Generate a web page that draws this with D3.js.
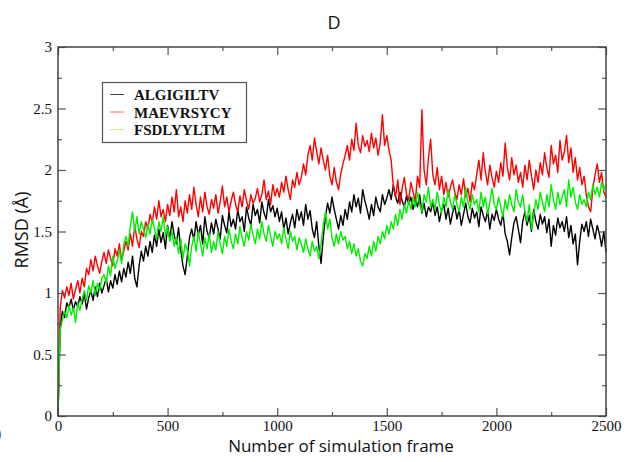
<!DOCTYPE html>
<html><head><meta charset="utf-8">
<script src="https://cdn.jsdelivr.net/npm/d3@7"></script>
<style>body{margin:0;background:#fff}svg{display:block}</style>
</head><body>
<script>
const seriesNames = ["ALGIGILTV", "MAEVRSYCY", "FSDLYYLTM"];
const seriesColors = ["#000000", "#ff0000", "#00ee00"];
const legendColors = ["#444444", "#ff6666", "#ccee77"];
const frameStep = 10;
const xTicks = [0, 500, 1000, 1500, 2000, 2500];
const yTicks = [0, 0.5, 1, 1.5, 2, 2.5, 3];
const yTickLabels = ["0", "0.5", "1", "1.5", "2", "2.5", "3"];

const black = [0.00,
0.72,0.85,0.80,0.92,0.88,0.95,0.86,0.93,0.89,0.97,
0.91,0.99,0.87,0.96,1.02,0.94,1.05,0.97,1.08,1.00,
1.06,1.12,1.01,1.10,1.04,1.15,1.07,1.18,1.09,1.20,
1.13,1.25,1.16,1.30,1.12,1.05,1.22,1.34,1.26,1.38,
1.30,1.42,1.33,1.47,1.38,1.52,1.41,1.49,1.36,1.55,
1.44,1.58,1.47,1.40,1.53,1.35,1.22,1.15,1.30,1.45,
1.52,1.43,1.58,1.47,1.55,1.40,1.62,1.50,1.45,1.57,
1.48,1.60,1.52,1.44,1.63,1.55,1.49,1.66,1.54,1.60,
1.52,1.68,1.58,1.62,1.50,1.70,1.61,1.55,1.72,1.63,
1.68,1.57,1.74,1.65,1.60,1.76,1.66,1.71,1.62,1.69,
1.58,1.66,1.52,1.61,1.48,1.57,1.64,1.53,1.68,1.59,
1.66,1.55,1.72,1.60,1.67,1.52,1.45,1.58,1.38,1.24,
1.45,1.62,1.73,1.65,1.78,1.68,1.60,1.52,1.63,1.55,
1.68,1.60,1.74,1.66,1.80,1.70,1.77,1.65,1.84,1.75,
1.68,1.60,1.72,1.63,1.78,1.70,1.66,1.80,1.72,1.77,
1.84,1.76,1.88,1.78,1.73,1.82,1.75,1.70,1.79,1.72,
1.78,1.68,1.76,1.70,1.80,1.65,1.73,1.62,1.70,1.66,
1.74,1.63,1.70,1.58,1.67,1.72,1.60,1.69,1.56,1.65,
1.71,1.60,1.68,1.55,1.64,1.73,1.62,1.57,1.69,1.61,
1.66,1.54,1.70,1.63,1.58,1.67,1.52,1.64,1.59,1.68,
1.60,1.55,1.65,1.48,1.42,1.31,1.45,1.57,1.62,1.52,
1.41,1.58,1.66,1.55,1.63,1.50,1.68,1.58,1.52,1.64,
1.56,1.62,1.49,1.60,1.38,1.55,1.47,1.61,1.53,1.58,
1.50,1.62,1.45,1.55,1.40,1.48,1.23,1.42,1.56,1.50,
1.58,1.46,1.60,1.52,1.44,1.55,1.48,1.38,1.50,1.33];

const red = [0.00,
0.88,1.02,0.96,1.05,0.98,1.08,0.95,1.03,1.10,1.00,
1.12,1.05,1.20,1.15,1.27,1.18,1.30,1.22,1.16,1.26,
1.33,1.24,1.35,1.28,1.22,1.36,1.30,1.40,1.27,1.34,
1.42,1.35,1.48,1.38,1.55,1.44,1.37,1.50,1.46,1.58,
1.52,1.64,1.57,1.70,1.60,1.75,1.62,1.68,1.58,1.72,
1.63,1.78,1.66,1.84,1.62,1.70,1.58,1.75,1.65,1.80,
1.68,1.86,1.72,1.62,1.78,1.66,1.82,1.70,1.64,1.76,
1.69,1.80,1.65,1.74,1.87,1.70,1.78,1.66,1.75,1.82,
1.72,1.66,1.79,1.70,1.84,1.75,1.68,1.80,1.73,1.77,
1.85,1.74,1.80,1.92,1.76,1.83,1.72,1.88,1.79,1.85,
1.78,1.90,1.82,1.95,1.84,1.76,1.92,1.86,1.98,1.88,
1.94,2.05,1.96,2.12,2.20,2.08,2.26,2.15,2.05,2.18,
2.08,2.00,2.12,1.95,1.88,2.02,1.90,1.84,1.97,2.05,
2.12,2.20,2.08,2.25,2.16,2.38,2.20,2.14,2.28,2.19,
2.24,2.15,2.30,2.18,2.26,2.12,2.22,2.45,2.20,2.28,
2.16,2.08,1.86,1.78,1.92,1.72,1.85,1.94,1.80,1.76,
1.90,1.82,1.75,1.95,1.86,2.49,2.00,1.88,2.10,2.25,
1.96,1.88,2.02,1.84,1.95,1.80,1.90,1.78,1.86,1.92,
1.82,1.76,1.88,1.80,1.93,1.78,1.85,1.74,1.90,1.84,
1.96,2.08,1.92,2.14,1.98,1.88,2.04,1.94,1.86,1.99,
1.90,2.06,1.95,2.22,2.02,1.92,2.10,1.96,2.04,1.90,
1.98,1.86,2.04,1.92,2.08,1.95,1.84,2.00,1.90,2.06,
1.96,2.14,2.02,1.94,2.20,2.05,2.12,1.98,2.24,2.08,
2.15,2.28,2.06,2.18,1.98,2.10,1.92,2.02,1.88,1.95,
1.80,1.70,1.66,1.85,1.96,2.05,1.90,1.98,1.82,1.78];

const green = [0.00,
0.70,0.78,0.85,0.80,0.90,0.82,0.88,0.76,0.92,0.86,
0.95,1.02,0.94,1.06,1.00,1.10,0.98,1.08,1.02,1.12,
1.15,1.08,1.22,1.14,1.30,1.20,1.26,1.35,1.24,1.40,
1.46,1.38,1.55,1.66,1.50,1.62,1.48,1.58,1.52,1.45,
1.56,1.48,1.60,1.52,1.44,1.58,1.50,1.62,1.46,1.54,
1.42,1.50,1.38,1.46,1.32,1.44,1.28,1.40,1.35,1.22,
1.38,1.46,1.34,1.50,1.40,1.30,1.45,1.36,1.48,1.33,
1.42,1.35,1.50,1.40,1.32,1.46,1.38,1.52,1.42,1.36,
1.48,1.40,1.54,1.45,1.38,1.50,1.43,1.56,1.47,1.40,
1.52,1.44,1.58,1.48,1.42,1.55,1.46,1.38,1.50,1.44,
1.48,1.40,1.53,1.44,1.36,1.50,1.42,1.46,1.35,1.45,
1.40,1.33,1.44,1.36,1.30,1.42,1.34,1.38,1.28,1.40,
1.55,1.66,1.52,1.60,1.45,1.38,1.48,1.40,1.50,1.43,
1.46,1.36,1.42,1.32,1.40,1.30,1.36,1.26,1.22,1.32,
1.28,1.38,1.30,1.42,1.34,1.46,1.40,1.50,1.44,1.55,
1.48,1.58,1.52,1.64,1.55,1.68,1.60,1.72,1.65,1.75,
1.68,1.78,1.70,1.82,1.72,1.66,1.80,1.74,1.86,1.70,
1.76,1.68,1.82,1.72,1.65,1.78,1.70,1.84,1.74,1.68,
1.80,1.72,1.66,1.78,1.70,1.86,1.74,1.68,1.80,1.72,
1.76,1.66,1.82,1.70,1.78,1.64,1.74,1.85,1.72,1.68,
1.78,1.70,1.62,1.76,1.68,1.80,1.72,1.66,1.84,1.74,
1.70,1.80,1.66,1.58,1.72,1.52,1.64,1.76,1.68,1.82,
1.74,1.66,1.80,1.70,1.88,1.76,1.68,1.82,1.72,1.78,
1.84,1.70,1.92,1.78,1.86,1.74,1.68,1.80,1.72,1.76,
1.70,1.82,1.76,1.88,1.80,1.86,1.78,1.90,1.84,1.88];

const allSeries = [black, red, green];

const W = 634, H = 462;
const m = {left: 58, right: 28, top: 47, bottom: 46};
const svg = d3.select("body").append("svg").attr("width", W).attr("height", H);

const x = d3.scaleLinear().domain([0, 2500]).range([m.left, W - m.right]);
const y = d3.scaleLinear().domain([0, 3]).range([H - m.bottom, m.top]);

// title
svg.append("text").attr("x", 334).attr("y", 29).attr("text-anchor", "middle")
  .attr("font-family", "Open Sans, sans-serif").attr("font-size", 18).attr("fill", "#111").text("D");

// lines
const line = d3.line().x((d, i) => x(i * frameStep)).y(d => y(d));
allSeries.forEach((s, k) => {
  svg.append("path").datum(s).attr("fill", "none").attr("stroke", seriesColors[k])
    .attr("stroke-width", 1.4).attr("stroke-linejoin", "round").attr("d", line);
});

// axes with inward ticks
const tickColor = "#555";
const xMinor = d3.range(250, 2500, 500);
const yMinor = d3.range(0.25, 3, 0.5);
const g = svg.append("g");
function addAxis(axis, tx, ty) {
  const a = g.append("g").attr("transform", `translate(${tx},${ty})`).call(axis);
  a.selectAll("path").remove();
  a.selectAll("line").attr("stroke", tickColor).attr("stroke-width", 1.2);
  return a;
}
addAxis(d3.axisBottom(x).tickValues(xTicks).tickSize(-8).tickPadding(4).tickFormat(d3.format("d")), 0, y(0));
addAxis(d3.axisBottom(x).tickValues(xMinor).tickSize(-4).tickFormat(""), 0, y(0));
addAxis(d3.axisTop(x).tickValues(xTicks).tickSize(-8).tickFormat(""), 0, y(3));
addAxis(d3.axisTop(x).tickValues(xMinor).tickSize(-4).tickFormat(""), 0, y(3));
addAxis(d3.axisLeft(y).tickValues(yTicks).tickSize(-8).tickPadding(6).tickFormat((d, i) => yTickLabels[i]), x(0), 0);
addAxis(d3.axisLeft(y).tickValues(yMinor).tickSize(-4).tickFormat(""), x(0), 0);
addAxis(d3.axisRight(y).tickValues(yTicks).tickSize(-8).tickFormat(""), x(2500), 0);
addAxis(d3.axisRight(y).tickValues(yMinor).tickSize(-4).tickFormat(""), x(2500), 0);
g.selectAll("text").attr("font-family", "Liberation Serif, Times New Roman, serif")
  .attr("font-size", 15).attr("fill", "#111");

// frame
g.append("rect").attr("x", x(0)).attr("y", y(3)).attr("width", x(2500) - x(0)).attr("height", y(0) - y(3))
  .attr("fill", "none").attr("stroke", "#444").attr("stroke-width", 1.5);

// axis titles
svg.append("text").attr("x", 341).attr("y", 452).attr("text-anchor", "middle")
  .attr("font-family", "Open Sans, sans-serif").attr("font-size", 17).attr("fill", "#111")
  .text("Number of simulation frame");
svg.append("text").attr("transform", "translate(28,230) rotate(-90)").attr("text-anchor", "middle")
  .attr("font-family", "Open Sans, sans-serif").attr("font-size", 18).attr("fill", "#111")
  .text("RMSD (Å)");
svg.append("text").attr("x", -3).attr("y", 438)
  .attr("font-family", "Open Sans, sans-serif").attr("font-size", 14).attr("fill", "#111").text(")");

// legend
const leg = svg.append("g");
leg.append("rect").attr("x", 102.5).attr("y", 82.5).attr("width", 144).attr("height", 60)
  .attr("fill", "#fff").attr("stroke", "#555").attr("stroke-width", 1.2);
seriesNames.forEach((n, i) => {
  const yy = 94.5 + i * 17.5;
  leg.append("line").attr("x1", 110).attr("x2", 124).attr("y1", yy).attr("y2", yy)
    .attr("stroke", legendColors[i]).attr("stroke-width", 1);
  leg.append("text").attr("x", 134).attr("y", yy + 5.5).attr("font-family", "Liberation Serif, Times New Roman, serif")
    .attr("font-weight", "bold").attr("font-size", 15).attr("fill", "#111").text(n);
});
</script>
</body></html>
